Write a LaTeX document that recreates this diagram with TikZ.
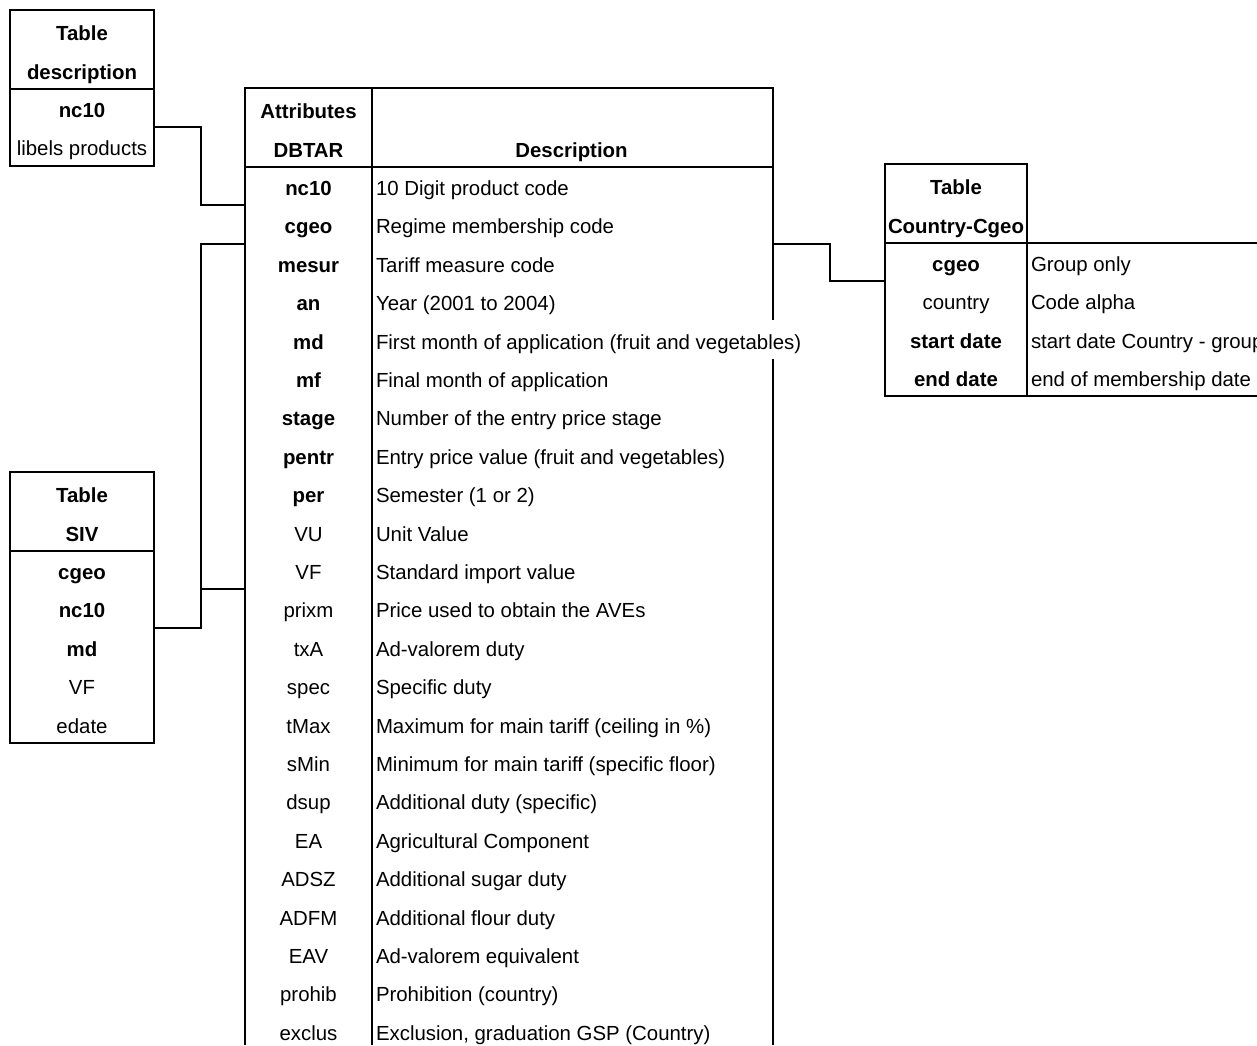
\documentclass[tikz,border=0pt]{standalone}
\usepackage{fontspec}
\setmainfont{Liberation Sans}
\usetikzlibrary{calc}

\tikzset{
  cell/.style={inner sep=0pt, minimum height=38.4pt, text height=21pt, text depth=0pt,
    font=\fontsize{20.4}{24}\selectfont},
  keycell/.style={cell, minimum width=#1},
  desccell/.style={cell, anchor=west, inner xsep=4pt},
}

\begin{document}
\begin{tikzpicture}[x=1pt, y=-1pt, line width=2pt]
  \useasboundingbox (0,0) rectangle (1257,1045);
  \clip (0,0) rectangle (1257,1045);
  \coordinate (pagecorner) at (1257,1045);

  % table description
  \foreach \t [count=\i] in {\textbf{Table},\textbf{description},\textbf{nc10},libels products}
    \node [keycell=142pt] (dsc\i) at (82,{11+(\i-0.5)*38.4}) {\t};
  \draw (dsc1.north west) rectangle (dsc4.south east);
  \draw (dsc2.south west) -- (dsc2.south east);

  % table SIV
  \foreach \t [count=\i] in {\textbf{Table},\textbf{SIV},\textbf{cgeo},\textbf{nc10},\textbf{md},VF,edate}
    \node [keycell=142pt] (siv\i) at (82,{473+(\i-0.5)*38.4}) {\t};
  \draw (siv1.north west) rectangle (siv7.south east);
  \draw (siv2.south west) -- (siv2.south east);

  % table DBTAR
  \node [keycell=125pt] (att1) at (308.5,{89+0.5*38.4}) {\textbf{Attributes}};
  \node [keycell=125pt] (att2) at (308.5,{89+1.5*38.4}) {\textbf{DBTAR}};
  \node [keycell=401pt] (dhead) at (571.5,{89+1.5*38.4}) {\textbf{Description}};
  \foreach \k/\d [count=\i] in {
    \textbf{nc10}/10 Digit product code,
    \textbf{cgeo}/Regime membership code,
    \textbf{mesur}/Tariff measure code,
    \textbf{an}/Year (2001 to 2004),
    \textbf{md}/First month of application (fruit and vegetables),
    \textbf{mf}/Final month of application,
    \textbf{stage}/Number of the entry price stage,
    \textbf{pentr}/Entry price value (fruit and vegetables),
    \textbf{per}/Semester (1 or 2),
    VU/Unit Value,
    VF/Standard import value,
    prixm/Price used to obtain the AVEs,
    txA/Ad-valorem duty,
    spec/Specific duty,
    tMax/Maximum for main tariff (ceiling in \%),
    sMin/Minimum for main tariff (specific floor),
    dsup/Additional duty (specific),
    EA/Agricultural Component,
    ADSZ/Additional sugar duty,
    ADFM/Additional flour duty,
    EAV/Ad-valorem equivalent,
    prohib/Prohibition (country),
    exclus/{Exclusion, graduation GSP (Country)}}
  {
    \node [keycell=125pt] (k\i) at (308.5,{89+(\i+1.5)*38.4}) {\k};
    \node [desccell] (d\i) at (371,{89+(\i+1.5)*38.4}) {\d};
  }
  \draw
    (att1.north west |- pagecorner) -- (att1.north west) -- (att1.north west -| dhead.east)
      -- (dhead.east |- k4.south)
    (dhead.east |- k5.south) -- (dhead.east |- pagecorner)
    (att1.north east) -- (att1.north east |- pagecorner)
    (att2.south west) -- (att2.south west -| dhead.east)
  ;

  % table Country-Cgeo
  \foreach \t [count=\i] in {\textbf{Table},\textbf{Country-Cgeo},\textbf{cgeo},country,\textbf{start date},\textbf{end date}}
    \node [keycell=140pt] (cty\i) at (956,{165+(\i-0.5)*38.4}) {\t};
  \foreach \d [count=\i from 3] in {Group only,Code alpha,start date Country - group,end of membership date}
    \node [desccell] (ctyd\i) at (1026,{165+(\i-0.5)*38.4}) {\d};
  \draw (cty1.north west) rectangle (cty2.south east);
  \draw
    (cty2.south west) -- (cty6.south west) -- (cty6.south -| pagecorner)
    (cty2.south east) -- (cty2.south -| pagecorner)
    (cty2.south east) -- (cty6.south east)
  ;

  % links
  \draw (dsc3.south east) -- ++(47,0) |- (k1.south west);
  \draw (siv4.south east) -- ++(47,0) coordinate (sivjoin) |- (k2.south west)
    (sivjoin) |- (k11.south west);
  \draw (dhead.east |- k2.south) -- ++(57,0) |- (cty3.south west);
\end{tikzpicture}
\end{document}
